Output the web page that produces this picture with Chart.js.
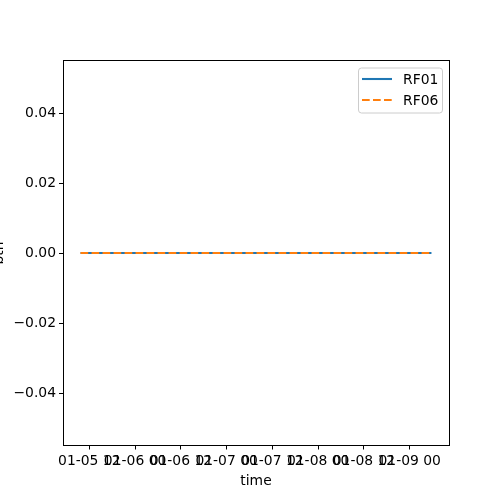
<!DOCTYPE html>
<html>
<head>
<meta charset="utf-8">
<script src="https://cdn.jsdelivr.net/npm/chart.js@4"></script>
<style>
  html, body { margin:0; padding:0; background:#fff; overflow:hidden; }
  #wrap { position:relative; width:500px; height:500px; overflow:hidden; }
  #c { position:absolute; left:-10px; top:0; }
</style>
</head>
<body>
<div id="wrap"><canvas id="c" width="510" height="500"></canvas></div>
<script>
// hours since 01-05 00:00
const timesRF01 = [9.7, 20, 32, 44, 56, 68, 80, 92, 101.7];
const valuesRF01 = [0, 0, 0, 0, 0, 0, 0, 0, 0];
const timesRF06 = [9.7, 20, 32, 44, 56, 68, 80, 92, 101.7];
const valuesRF06 = [0, 0, 0, 0, 0, 0, 0, 0, 0];
const xTickHours = [12, 24, 36, 48, 60, 72, 84, 96];
const xTickLabels = ["01-05 12", "01-06 00", "01-06 12", "01-07 00", "01-07 12", "01-08 00", "01-08 12", "01-09 00"];
const yTicks = [-0.04, -0.02, 0, 0.02, 0.04];

const FONT = { family:"DejaVu Sans", size:13.9 };
const BLUE = "#1f77b4", ORANGE = "#ff7f0e";
const LW = 2.08;

const pts = (t, v) => t.map((x, i) => ({ x, y: v[i] }));

// box around the axes + matplotlib-ish legend
const frame = {
  id:"frame",
  afterDraw(chart){
    const { ctx, chartArea:a } = chart;
    ctx.save();
    ctx.strokeStyle = "#000"; ctx.lineWidth = 1;
    ctx.strokeRect(Math.floor(a.left)+0.5, Math.floor(a.top)+0.5, Math.round(a.right-a.left), Math.round(a.bottom-a.top));

    // legend
    const bx = a.right - 91, by = a.top + 7, bw = 84, bh = 45;
    ctx.fillStyle = "rgba(255,255,255,0.8)";
    ctx.strokeStyle = "#cccccc";
    ctx.beginPath();
    ctx.roundRect(bx+0.5, by+0.5, bw, bh, 3);
    ctx.fill(); ctx.stroke();
    ctx.font = `${FONT.size}px ${FONT.family}`;
    ctx.textBaseline = "middle";
    const items = [...chart.data.datasets].sort((p, q) => q.order - p.order);
    items.forEach((ds, i) => {
      const y = by + 11.5 + i * 21;
      ctx.strokeStyle = ds.borderColor; ctx.lineWidth = LW;
      ctx.setLineDash(ds.borderDash || []);
      ctx.beginPath(); ctx.moveTo(bx + 4, y); ctx.lineTo(bx + 34, y); ctx.stroke();
      ctx.setLineDash([]);
      ctx.fillStyle = "#000";
      ctx.fillText(ds.label, bx + 45, y + 1);
    });
    ctx.restore();
  }
};

new Chart(document.getElementById("c"), {
  type:"line",
  data:{
    datasets:[
      { label:"RF01", order:1, data: pts(timesRF01, valuesRF01), borderColor:BLUE, borderWidth:LW, pointRadius:0, fill:false },
      { label:"RF06", order:0, data: pts(timesRF06, valuesRF06), borderColor:ORANGE, borderWidth:LW, borderDash:[7.7, 3.3], pointRadius:0, fill:false },
    ]
  },
  options:{
    responsive:false, animation:false,
    layout:{ padding:{ top:60.5, right:51, left:0, bottom:0 } },
    plugins:{ legend:{ display:false }, tooltip:{ enabled:false } },
    scales:{
      x:{
        type:"linear", min:5.1, max:106.3,
        afterBuildTicks: s => { s.ticks = xTickHours.map(v => ({ value:v })); },
        afterFit: s => { s.height = 54.5; },
        border:{ display:false },
        grid:{ display:true, drawOnChartArea:false, drawTicks:true, tickLength:4, color:"#000" },
        ticks:{ autoSkip:false, maxRotation:0, minRotation:0, padding:3.5, color:"#000", font:FONT,
          callback: v => xTickLabels[xTickHours.indexOf(v)] ?? "" },
        title:{ display:true, text:"time", color:"#000", font:FONT, padding:{ top:0, bottom:10 } },
      },
      y:{
        min:-0.055, max:0.055,
        afterBuildTicks: s => { s.ticks = yTicks.map(v => ({ value:v })); },
        afterFit: s => { s.width = 73; },
        border:{ display:false },
        grid:{ display:true, drawOnChartArea:false, drawTicks:true, tickLength:4, color:"#000" },
        ticks:{ padding:3, color:"#000", font:FONT,
          callback: v => (v < 0 ? "\u2212" : "") + Math.abs(v).toFixed(2) },
        title:{ display:true, text:"bth", color:"#000", font:FONT, padding:{ top:1, bottom:0 } },
      }
    }
  },
  plugins:[frame]
});
</script>
</body>
</html>
